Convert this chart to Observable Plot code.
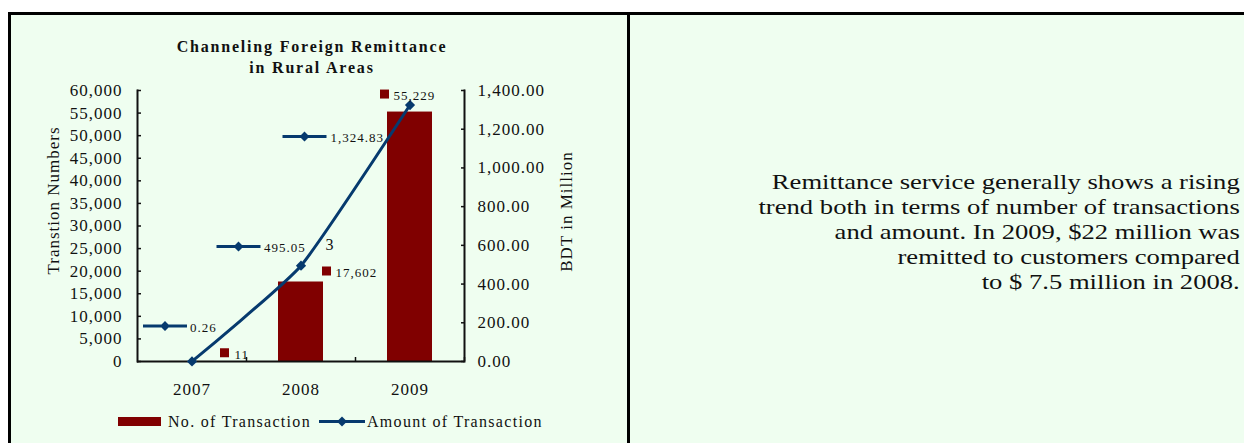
<!DOCTYPE html>
<html>
<head>
<meta charset="utf-8">
<script src="https://cdn.jsdelivr.net/npm/d3@7"></script>
<script src="https://cdn.jsdelivr.net/npm/@observablehq/plot@0.6"></script>
<style>
html,body{margin:0;padding:0;width:1244px;height:443px;overflow:hidden;background:#fff;}
#frame{position:absolute;left:8px;top:12px;width:1300px;height:500px;border-left:3px solid #000;border-top:3px solid #000;background:#EFFEF0;box-sizing:border-box;}
#divider{position:absolute;left:627px;top:12px;width:3px;height:440px;background:#000;}
#chart{position:absolute;left:0;top:0;}
.t{position:absolute;font-family:"Liberation Serif","Times New Roman",serif;color:#111;white-space:nowrap;}
#title{left:0;width:624px;top:36px;text-align:center;font-weight:bold;font-size:16px;line-height:21px;letter-spacing:1.8px;}
#note{right:4px;top:169px;text-align:right;font-size:22px;line-height:25px;transform:scaleX(1.21);transform-origin:right top;}
.leg{font-size:16px;line-height:16px;letter-spacing:1.3px;top:414px;}
</style>
</head>
<body>
<div id="frame"></div>
<div id="divider"></div>
<div id="chart"></div>
<div id="title" class="t"></div>
<div id="legend"></div>
<div id="note" class="t"></div>
<script>
// ---- data ----
const years = ["2007", "2008", "2009"];
const transactions = [11, 17602, 55229];
const amounts = [0.26, 495.05, 1324.83];
const leftTicks = [0, 5000, 10000, 15000, 20000, 25000, 30000, 35000, 40000, 45000, 50000, 55000, 60000];
const rightTicks = [0, 200, 400, 600, 800, 1000, 1200, 1400];
const extraLabels = ["3"];
const titleLines = ["Channeling Foreign Remittance", "in Rural Areas"];
const leftAxisTitle = "Transtion Numbers";
const rightAxisTitle = "BDT in Million";
const legendLabels = ["No. of Transaction", "Amount of Transaction"];
const noteLines = [
  "Remittance service generally shows a rising",
  "trend both in terms of number of transactions",
  "and amount. In 2009, $22 million was",
  "remitted to customers compared",
  "to $ 7.5 million in 2008."
];

// ---- styles ----
const navy = "#063a6e";
const maroon = "#800000";
const ink = "#111";
const K = 60000 / 1400; // right-axis units -> left-axis units

const rows = years.map((year, i) => ({year, n: transactions[i], amt: amounts[i], ya: amounts[i] * K}));
const fmtN = d3.format(",");
const fmtAmt = d3.format(",.2f");

// legend-key symbol (line with diamond) used by Excel-style data labels
const keySymbol = {
  draw(ctx) {
    ctx.moveTo(-22, -1.5); ctx.lineTo(22, -1.5); ctx.lineTo(22, 1.5); ctx.lineTo(-22, 1.5); ctx.closePath();
    ctx.moveTo(0, -5); ctx.lineTo(5, 0); ctx.lineTo(0, 5); ctx.lineTo(-5, 0); ctx.closePath();
  }
};

const lineKeyOff = [[-27, -35.5], [-62.5, -19.2], [-105.5, 31.5]];
const lineTextOff = [[-2, -34], [-37, -17.5], [-79.5, 32.8]];
const barKeyOff = [[32.5, -8.7], [25.5, -11], [-25.5, -18]];
const barTextOff = [[42.5, -7], [34.5, -8.8], [-16.5, -16.5]];

const marks = [
  Plot.barY(rows, {x: "year", y: "n", fill: maroon, insetLeft: 32, insetRight: 32}),
  Plot.ruleY([0], {stroke: ink, strokeWidth: 2}),
  Plot.frame({anchor: "left", stroke: ink, strokeWidth: 2}),
  Plot.frame({anchor: "right", stroke: ink, strokeWidth: 2}),
  Plot.axisY(leftTicks, {anchor: "left", tickSize: 4, dx: 4, fill: "none", label: null, stroke: ink, strokeWidth: 1.5}),
  Plot.axisY(leftTicks, {anchor: "left", tickSize: 0, tickPadding: 15, tickFormat: fmtN, label: null, fill: ink}),
  Plot.axisY(rightTicks.map(v => v * K), {anchor: "right", tickSize: 4, dx: -4, fill: "none", label: null, stroke: ink, strokeWidth: 1.5}),
  Plot.axisY(rightTicks.map(v => v * K), {anchor: "right", tickSize: 0, tickPadding: 13, tickFormat: v => fmtAmt(v / K), label: null, fill: ink}),
  Plot.axisX({anchor: "bottom", tickSize: 0, tickPadding: 21, label: null, fill: ink}),
  Plot.axisX({anchor: "bottom", tickSize: 4, dx: 54.5, dy: -4, fill: "none", label: null, stroke: ink, strokeWidth: 1.5}),
  Plot.line(rows, {x: "year", y: "ya", stroke: navy, strokeWidth: 3, curve: "cardinal", tension: 0.55}),
  Plot.dot(rows, {x: "year", y: "ya", symbol: "diamond2", r: 4.6, fill: navy}),
  Plot.text([0], {frameAnchor: "left", textAnchor: "middle", text: () => leftAxisTitle, rotate: -90, dx: -84, dy: -25.5, fontSize: 17, fill: ink}),
  Plot.text([0], {frameAnchor: "right", textAnchor: "middle", text: () => rightAxisTitle, rotate: -90, dx: 102, dy: -14.5, fontSize: 17, fill: ink}),
  Plot.text([rows[1]], {x: "year", y: "ya", text: () => extraLabels[0], dx: 29, dy: -21, fontSize: 16, fill: ink})
];

rows.forEach((r, i) => {
  marks.push(Plot.dot([r], {x: "year", y: "ya", symbol: keySymbol, fill: navy, dx: lineKeyOff[i][0], dy: lineKeyOff[i][1]}));
  marks.push(Plot.text([r], {x: "year", y: "ya", text: d => fmtAmt(d.amt), textAnchor: "start", fontSize: 13, fill: ink, dx: lineTextOff[i][0], dy: lineTextOff[i][1]}));
  marks.push(Plot.dot([r], {x: "year", y: "n", symbol: "square", r: 5.08, fill: maroon, dx: barKeyOff[i][0], dy: barKeyOff[i][1]}));
  marks.push(Plot.text([r], {x: "year", y: "n", text: d => fmtN(d.n), textAnchor: "start", fontSize: 13, fill: ink, dx: barTextOff[i][0], dy: barTextOff[i][1]}));
});

const chart = Plot.plot({
  width: 627,
  height: 443,
  marginLeft: 137,
  marginRight: 163,
  marginTop: 90,
  marginBottom: 82,
  x: {type: "band", domain: years, padding: 0, round: false},
  y: {domain: [0, 60000]},
  style: {background: "none", fontFamily: '"Liberation Serif", "Times New Roman", serif', fontSize: "17px", color: ink, letterSpacing: "1px", overflow: "visible"},
  marks
});
document.getElementById("chart").appendChild(chart);

// title
document.getElementById("title").innerHTML = titleLines.join("<br>");

// legend
const legend = document.getElementById("legend");
legend.innerHTML =
  `<div style="position:absolute;left:118px;top:417px;width:43px;height:9px;background:${maroon}"></div>` +
  `<div class="t leg" style="left:168px">${legendLabels[0]}</div>` +
  `<svg style="position:absolute;left:319px;top:416px" width="46" height="11"><rect x="0" y="4" width="46" height="3" fill="${navy}"/><path d="M23,0.5L28,5.5L23,10.5L18,5.5Z" fill="${navy}"/></svg>` +
  `<div class="t leg" style="left:367px">${legendLabels[1]}</div>`;

// note text
document.getElementById("note").innerHTML = noteLines.join("<br>");
</script>
</body>
</html>
